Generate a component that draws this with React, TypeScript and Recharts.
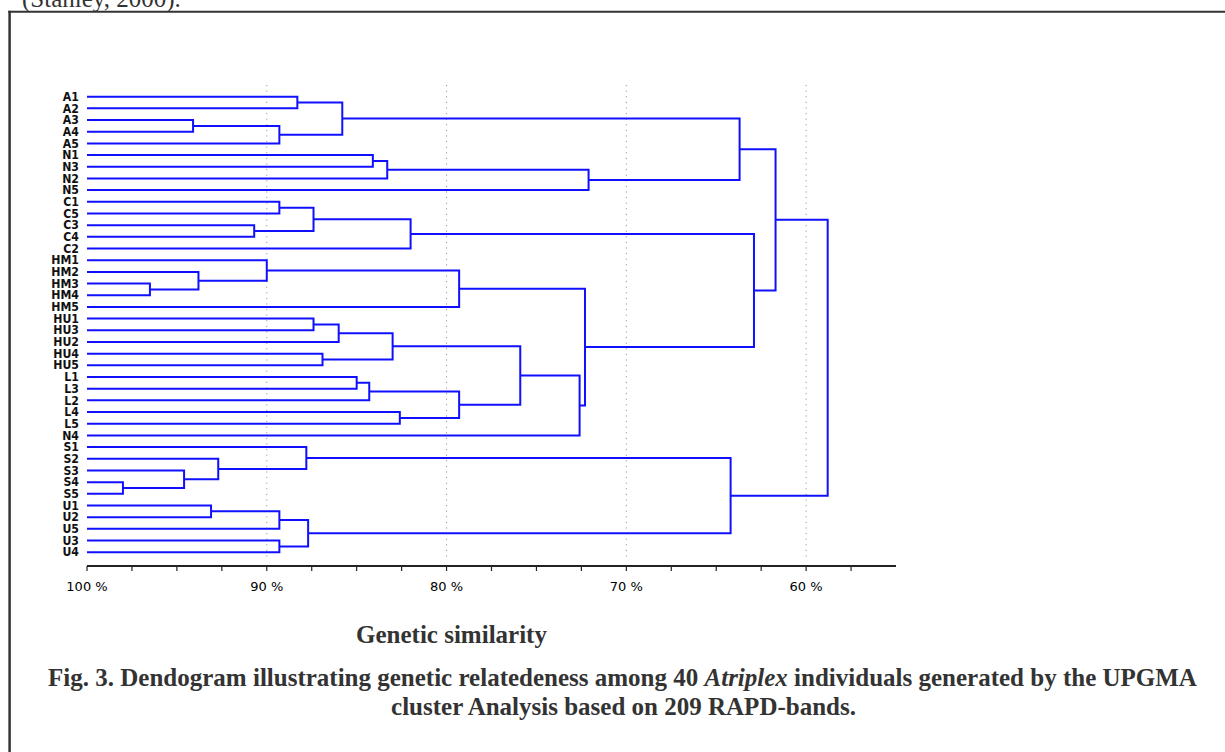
import React from 'react';
import { ComposedChart, Line, XAxis, YAxis, ReferenceLine } from 'recharts';

// leaf order, top to bottom
const leaves = [
  'A1', 'A2', 'A3', 'A4', 'A5', 'N1', 'N3', 'N2', 'N5',
  'C1', 'C5', 'C3', 'C4', 'C2',
  'HM1', 'HM2', 'HM3', 'HM4', 'HM5',
  'HU1', 'HU3', 'HU2', 'HU4', 'HU5',
  'L1', 'L3', 'L2', 'L4', 'L5', 'N4',
  'S1', 'S2', 'S3', 'S4', 'S5',
  'U1', 'U2', 'U5', 'U3', 'U4',
];

// [cluster id, left child, right child, similarity %]
const merges: [string, string, string, number][] = [
  ['A12', 'A1', 'A2', 88.3],
  ['A34', 'A3', 'A4', 94.1],
  ['A345', 'A34', 'A5', 89.3],
  ['A', 'A12', 'A345', 85.8],
  ['N13', 'N1', 'N3', 84.1],
  ['N132', 'N13', 'N2', 83.3],
  ['N', 'N132', 'N5', 72.1],
  ['AN', 'A', 'N', 63.7],
  ['C15', 'C1', 'C5', 89.3],
  ['C34', 'C3', 'C4', 90.7],
  ['C1534', 'C15', 'C34', 87.4],
  ['C', 'C1534', 'C2', 82.0],
  ['HM34', 'HM3', 'HM4', 96.5],
  ['HM234', 'HM2', 'HM34', 93.8],
  ['HM1234', 'HM1', 'HM234', 90.0],
  ['HM', 'HM1234', 'HM5', 79.3],
  ['HU13', 'HU1', 'HU3', 87.4],
  ['HU132', 'HU13', 'HU2', 86.0],
  ['HU45', 'HU4', 'HU5', 86.9],
  ['HU', 'HU132', 'HU45', 83.0],
  ['L13', 'L1', 'L3', 85.0],
  ['L132', 'L13', 'L2', 84.3],
  ['L45', 'L4', 'L5', 82.6],
  ['L', 'L132', 'L45', 79.3],
  ['HUL', 'HU', 'L', 75.9],
  ['HULN4', 'HUL', 'N4', 72.6],
  ['HMHUL', 'HM', 'HULN4', 72.3],
  ['CH', 'C', 'HMHUL', 62.9],
  ['ANCH', 'AN', 'CH', 61.7],
  ['S45', 'S4', 'S5', 98.0],
  ['S345', 'S3', 'S45', 94.6],
  ['S2345', 'S2', 'S345', 92.7],
  ['S', 'S1', 'S2345', 87.8],
  ['U12', 'U1', 'U2', 93.1],
  ['U125', 'U12', 'U5', 89.3],
  ['U34', 'U3', 'U4', 89.3],
  ['U', 'U125', 'U34', 87.7],
  ['SU', 'S', 'U', 64.2],
  ['root', 'ANCH', 'SU', 58.8],
];

const majorTicks = [100, 90, 80, 70, 60];
const axisTicks = [100, 97.5, 95, 92.5, 90, 87.5, 85, 82.5, 80, 77.5, 75, 72.5, 70, 67.5, 65, 62.5, 60, 57.5];
const gridValues = [90, 80, 70, 60];
const leafIndex = leaves.map((_, i) => i);

// build the U-shaped links of the dendrogram
const pos: Record<string, { x: number; y: number }> = {};
leaves.forEach((l, i) => { pos[l] = { x: 100, y: i }; });
const links = merges.map(([id, a, b, sim]) => {
  const p = pos[a];
  const q = pos[b];
  pos[id] = { x: sim, y: (p.y + q.y) / 2 };
  return {
    id,
    data: [
      { x: p.x, y: p.y },
      { x: sim, y: p.y },
      { x: sim, y: q.y },
      { x: q.x, y: q.y },
    ],
  };
});

const LeafTick = ({ x, y, payload }: any) => (
  <g transform={`translate(${x},${y}) scale(1,1.05)`}>
    <text x={0} y={0} dy="0.36em" textAnchor="end" fontSize={11} fontWeight="bold" fontFamily="DejaVu Sans" fill="#111">
      {leaves[payload.value]}
    </text>
  </g>
);

const PctTick = ({ x, y, payload }: any) => {
  if (!majorTicks.includes(payload.value)) return <g />;
  return (
    <text x={x} y={y} dy="0.71em" textAnchor="middle" fontSize={13} fontFamily="DejaVu Sans" fill="#000">
      {`${payload.value} %`}
    </text>
  );
};

export default function App() {
  const serif = '"Liberation Serif", "Times New Roman", serif';
  return (
    <div style={{ position: 'relative', width: 1225, height: 752, overflow: 'hidden', background: '#fff' }}>
      <style>{'body{margin:0;}'}</style>
      <svg width={1225} height={752} style={{ position: 'absolute', left: 0, top: 0 }}>
        <text x={22} y={6.5} fontSize={25} fontFamily={serif} fill="#333">(Stanley, 2000).</text>
        <line x1={9.6} y1={10.7} x2={9.6} y2={752} stroke="#333" strokeWidth={2.5} />
        <line x1={8.3} y1={11.7} x2={1225} y2={11.7} stroke="#333" strokeWidth={2} />
        <text x={451.5} y={643} textAnchor="middle" fontSize={25} fontWeight="bold" fontFamily={serif} fill="#333">
          Genetic similarity
        </text>
        <text x={622.5} y={686} textAnchor="middle" fontSize={25} fontWeight="bold" fontFamily={serif} fill="#333">
          Fig. 3. Dendogram illustrating genetic relatedeness among 40{' '}
          <tspan fontStyle="italic">Atriplex</tspan> individuals generated by the UPGMA
        </text>
        <text x={623.5} y={715} textAnchor="middle" fontSize={25} fontWeight="bold" fontFamily={serif} fill="#333">
          cluster Analysis based on 209 RAPD-bands.
        </text>
      </svg>
      <div style={{ position: 'absolute', left: 0, top: 0 }}>
        <ComposedChart width={960} height={630} margin={{ top: 85, right: 64, bottom: 34, left: 27 }}>
          <XAxis
            type="number"
            dataKey="x"
            domain={[55, 100]}
            reversed
            allowDataOverflow
            ticks={axisTicks}
            interval={0}
            tickSize={5}
            tickMargin={11}
            height={30}
            axisLine={{ stroke: '#222', strokeWidth: 2 }}
            tickLine={{ stroke: '#222', strokeWidth: 1.2 }}
            tick={<PctTick />}
          />
          <YAxis
            type="number"
            dataKey="y"
            domain={[-1, 40.18]}
            reversed
            allowDataOverflow
            ticks={leafIndex}
            interval={0}
            width={60}
            axisLine={false}
            tickLine={false}
            tickSize={5}
            tickMargin={3}
            tick={<LeafTick />}
          />
          {gridValues.map(v => (
            <ReferenceLine
              key={`g${v}`}
              segment={[{ x: v, y: -1 }, { x: v, y: 39.6 }]}
              stroke="#9a9a9a"
              strokeDasharray="1.2 4.4"
              ifOverflow="visible"
            />
          ))}
          {links.map(l => (
            <Line
              key={l.id}
              data={l.data}
              dataKey="y"
              type="linear"
              stroke="#1010ff"
              strokeWidth={2}
              dot={false}
              activeDot={false}
              isAnimationActive={false}
            />
          ))}
        </ComposedChart>
      </div>
    </div>
  );
}
